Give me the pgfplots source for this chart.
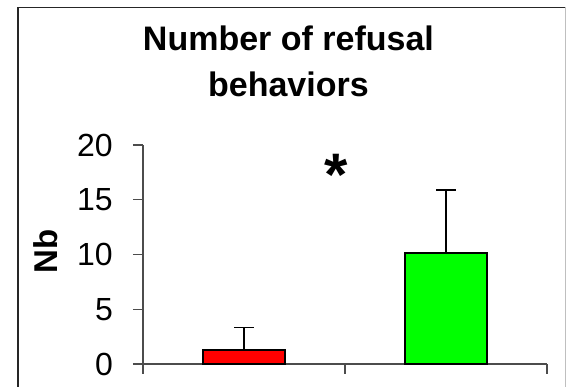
\documentclass[border=0pt]{standalone}
\usepackage{fontspec}
\setmainfont{Liberation Sans}
\usepackage{pgfplots}
\pgfplotsset{compat=1.18}
\begin{document}
\begin{tikzpicture}[x=1pt,y=1pt]
\useasboundingbox (0,0) rectangle (567,387);
% outer frame
\draw[black!85, line width=1.8pt] (18,-5) -- (18,379.5) -- (565,379.5);
\draw[black!25, line width=1pt] (565,379.5) -- (565,-5);
\begin{axis}[
  at={(143pt,23pt)}, anchor=south west,
  scale only axis, width=404pt, height=219pt,
  xmin=0, xmax=2, ymin=0, ymax=20,
  axis x line*=bottom, axis y line*=left,
  axis line style={black!70, line width=1.2pt},
  xtick={0,1,2}, xticklabels={},
  ytick={0,5,10,15,20},
  tick align=outside, major tick length=10pt,
  tick style={black!70, line width=1.2pt},
  /pgf/number format/assume math mode=true,
  yticklabel style={font=\fontsize{32}{36}\selectfont, anchor=east, inner sep=0pt, xshift=-20pt},
  title={Number of refusal\\behaviors},
  title style={font=\bfseries\fontsize{34}{46}\selectfont, align=center, anchor=base, at={(axis description cs:0.360,1.192)}},
  ylabel={Nb},
  ylabel style={font=\bfseries\fontsize{33}{40}\selectfont, rotate=0, anchor=center, at={(axis description cs:-0.240,0.513)}},
  clip=false,
  ybar, bar width=82pt, bar shift=0pt,
]
\addplot[fill=red, draw=black, line width=2pt,
  error bars/.cd, y dir=plus, y explicit,
  error bar style={black, line width=1.6pt},
  error mark options={rotate=90, mark size=10pt, line width=1.6pt, black}]
  coordinates {(0.5,1.28) +- (0,2.04)};
\addplot[fill=green, draw=black, line width=2pt,
  error bars/.cd, y dir=plus, y explicit,
  error bar style={black, line width=1.6pt},
  error mark options={rotate=90, mark size=10pt, line width=1.6pt, black}]
  coordinates {(1.5,10.13) +- (0,5.77)};
\node[font=\bfseries\fontsize{60}{60}\selectfont, inner sep=0pt] at (axis cs:0.955,17.25) {*};
\end{axis}
\end{tikzpicture}
\end{document}
